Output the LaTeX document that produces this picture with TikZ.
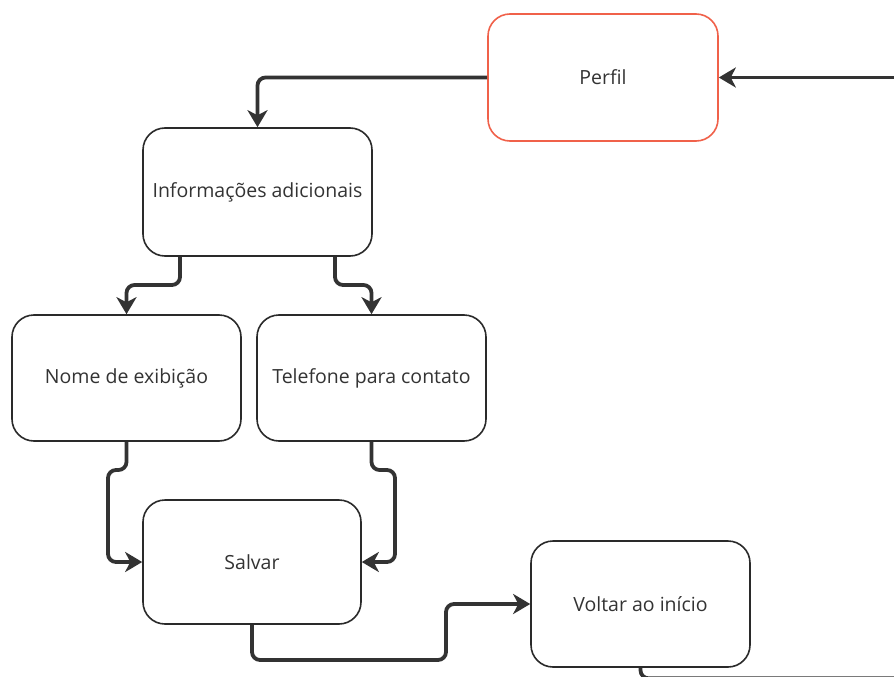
\documentclass[tikz,border=0pt]{standalone}
\usepackage{fontspec}
\setmainfont{Open Sans}
\usetikzlibrary{arrows.meta}
\definecolor{boxline}{HTML}{2A2A2A}
\definecolor{redline}{HTML}{F0614A}
\definecolor{conn}{HTML}{333333}
\definecolor{txt}{HTML}{333333}
\tikzset{
  box/.style={draw=boxline, line width=1.6pt, rounded corners=22pt, fill=white,
    text=txt, font=\fontsize{19.5}{23}\selectfont, inner sep=0pt},
  conn/.style={draw=conn, line width=3.8pt, rounded corners=8pt,
    -{Stealth[length=17pt,width=20pt,inset=5pt]}},
  connplain/.style={draw=conn, line width=3.8pt, rounded corners=8pt}
}
\begin{document}
\begin{tikzpicture}[x=1pt,y=-1pt]
\path[use as bounding box] (0,0) rectangle (894,677);
\begin{scope}
\clip (0,0) rectangle (894,677);
\node[box, draw=redline, minimum width=230pt, minimum height=127pt] (perfil) at (603,77.5) {Perfil};
\node[box, minimum width=229pt, minimum height=128pt] (info) at (257.5,192) {Informações adicionais};
\node[box, minimum width=229pt, minimum height=126pt] (nome) at (126.5,378) {Nome de exibição};
\node[box, minimum width=229pt, minimum height=126pt] (tel) at (371.5,378) {Telefone para contato};
\node[box, minimum width=218pt, minimum height=124pt] (salvar) at (252,562) {Salvar};
\node[box, minimum width=219pt, minimum height=126pt] (voltar) at (640.5,604) {Voltar ao início};

\coordinate (rin) at (900,77.5);
\draw[conn] (rin) -- (perfil.east);
\draw[conn] (perfil.west) -| (info.north);
\draw[conn] (info.south -| 180,0) -- (180,285) -| (nome.north);
\draw[conn] (info.south -| 335,0) -- (335,285) -| (tel.north);
\draw[conn] (nome.south) -- (126.5,470) -- (108,470) |- (salvar.west);
\draw[conn] (tel.south) -- (371.5,470) -- (395,470) |- (salvar.east);
\draw[conn] (salvar.south) -- (252,660) -- (446,660) |- (voltar.west);
\coordinate (bout) at (900,678.3);
\draw[connplain] (voltar.south) |- (bout);
\end{scope}
\end{tikzpicture}
\end{document}
